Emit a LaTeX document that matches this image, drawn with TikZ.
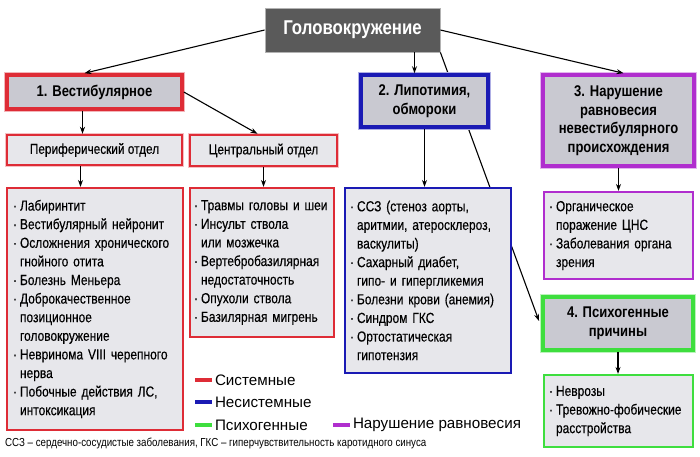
\documentclass[tikz,border=0pt]{standalone}
\usepackage{fontspec}
\setmainfont{Liberation Sans}
\newfontfamily\cond[FakeStretch=0.84]{Liberation Sans}
\newfontfamily\condm[FakeStretch=0.82,FakeBold=0.3]{Liberation Sans}
\usetikzlibrary{calc,arrows.meta,positioning}
\definecolor{redx}{HTML}{DE2C36}
\definecolor{bluex}{HTML}{1A1AB4}
\definecolor{greenx}{HTML}{3EDE3E}
\definecolor{magx}{HTML}{B02ECE}
\definecolor{darkx}{HTML}{5A5A5A}
\definecolor{hdbg}{HTML}{C9C9D1}
\definecolor{lsbg}{HTML}{E7E7EB}
\newcommand{\bul}{\makebox[7pt][l]{·}}
\newcommand{\ind}{\hspace*{7pt}}
\tikzset{
  hd/.style={draw=#1,line width=3.6pt,preaction={draw=#1!35,line width=6pt},fill=hdbg,align=center,
    font=\cond\bfseries\fontsize{15.5}{18.5}\selectfont,inner sep=0pt},
  sub/.style={draw=#1,line width=2.4pt,preaction={draw=#1!30,line width=4pt},fill=lsbg,align=center,
    font=\condm\fontsize{14.4}{18}\selectfont,inner sep=0pt},
  ls/.style={draw=#1,line width=2.2pt,fill=lsbg,align=left,anchor=center,
    font=\condm\fontsize{14.6}{18.6}\selectfont,inner sep=0pt},
  ar/.style={-{Stealth[length=7pt,width=5pt]},line width=1.1pt,black},
  lg/.style={line width=4pt,#1},
  lgt/.style={right,text=black,font=\fontsize{15.2}{17}\selectfont,inner sep=1pt}
}
\begin{document}
\begin{tikzpicture}[x=1pt,y=-1pt]
\useasboundingbox (0,0) rectangle (700,456);
% long line to group 4 goes behind the boxes
\node[fill=darkx,draw=gray!60,line width=0.8pt,minimum width=175pt,minimum height=44pt,
  text=white,font=\cond\bfseries\fontsize{20}{22}\selectfont] (top) at (352.5,30) {Головокружение};
\coordinate (psyin) at (539,321);
\draw[ar] (top.south east) -- (psyin);
% headers
\node[hd=redx,minimum width=175pt,minimum height=34pt] (vest) at (94.5,92) {1. Вестибулярное};
\node[hd=bluex,minimum width=127pt,minimum height=52pt] (lipo) at (424.5,101) {2. Липотимия,\\обмороки};
\node[hd=magx,minimum width=151pt,minimum height=91pt] (nonvest) at (618.5,120.5) {3. Нарушение\\равновесия\\невестибулярного\\происхождения};
\node[hd=greenx,minimum width=150pt,minimum height=53pt] (psy) at (618,323.5) {4. Психогенные\\причины};
% sub boxes
\node[sub=redx,minimum width=175pt,minimum height=30pt] (peri) at (94.5,150) {Периферический отдел};
\node[sub=redx,minimum width=147pt,minimum height=31pt] (centr) at (263.5,150.5) {Центральный отдел};
% lists
\node[ls=redx,minimum width=176pt,minimum height=242pt,text width=164pt] (perilist) at (95,309) {%
\bul Лабиринтит\\
\bul Вестибулярный нейронит\\
\bul Осложнения хронического\\
\ind гнойного отита\\
\bul Болезнь Меньера\\
\bul Доброкачественное\\
\ind позиционное\\
\ind головокружение\\
\bul Невринома VIII черепного\\
\ind нерва\\
\bul Побочные действия ЛС,\\
\ind интоксикация};
\node[ls=redx,minimum width=144pt,minimum height=149pt,text width=136pt] (centrlist) at (262,262.5) {%
\bul Травмы головы и шеи\\
\bul Инсульт ствола\\
\ind или мозжечка\\
\bul Вертебробазилярная\\
\ind недостаточность\\
\bul Опухоли ствола\\
\bul Базилярная мигрень};
\node[ls=bluex,minimum width=166pt,minimum height=185pt,text width=156pt] (lipolist) at (428,280.5) {%
\bul ССЗ (стеноз аорты,\\
\ind аритмии, атеросклероз,\\
\ind васкулиты)\\
\bul Сахарный диабет,\\
\ind гипо- и гипергликемия\\
\bul Болезни крови (анемия)\\
\bul Синдром ГКС\\
\bul Ортостатическая\\
\ind гипотензия};
\node[ls=magx,minimum width=149pt,minimum height=87pt,text width=139pt] (nvlist) at (618.5,235.5) {%
\bul Органическое\\
\ind поражение ЦНС\\
\bul Заболевания органа\\
\ind зрения};
\node[ls=greenx,minimum width=149pt,minimum height=72pt,text width=139pt] (psylist) at (618.5,411) {%
\bul Неврозы\\
\bul Тревожно-фобические\\
\ind расстройства};
% connectors
\draw[ar] (top.west) -- ([xshift=-10pt]vest.north);
\draw[ar] ([xshift=-10pt]lipo.north |- top.south) -- ([xshift=-10pt]lipo.north);
\draw[ar] (top.east) -- ([xshift=5pt]nonvest.north);
\draw[ar] ([xshift=-12pt]vest.south) -- ([xshift=-12pt]peri.north);
\draw[ar] (vest.east) -- ([xshift=-6pt]centr.north);
\draw[ar] ([xshift=-14pt]peri.south) -- ([xshift=-14pt]peri.south |- perilist.north);
\draw[ar] (centr.south) -- (centr.south |- centrlist.north);
\draw[ar] (lipo.south) -- (lipo.south |- lipolist.north);
\draw[ar] (nonvest.south) -- (nonvest.south |- nvlist.north);
\draw[ar] (psy.south) -- (psy.south |- psylist.north);
% legend
\coordinate (l1) at (195,380);
\coordinate (l2) at (195,402);
\coordinate (l3) at (195,425);
\coordinate (l4) at (333,425);
\draw[lg=redx] (l1) -- ++(17,0) node[lgt] {Системные};
\draw[lg=bluex] (l2) -- ++(17,0) node[lgt] {Несистемные};
\draw[lg=greenx] (l3) -- ++(17,0) node[lgt] {Психогенные};
\draw[lg=magx] (l4) -- ++(17,0) node[lgt] {Нарушение равновесия};
\node[anchor=west,inner sep=0pt,font=\cond\fontsize{11.6}{12}\selectfont] (note) at (5,443)
  {ССЗ – сердечно-сосудистые заболевания, ГКС – гиперчувствительность каротидного синуса};
\end{tikzpicture}
\end{document}
